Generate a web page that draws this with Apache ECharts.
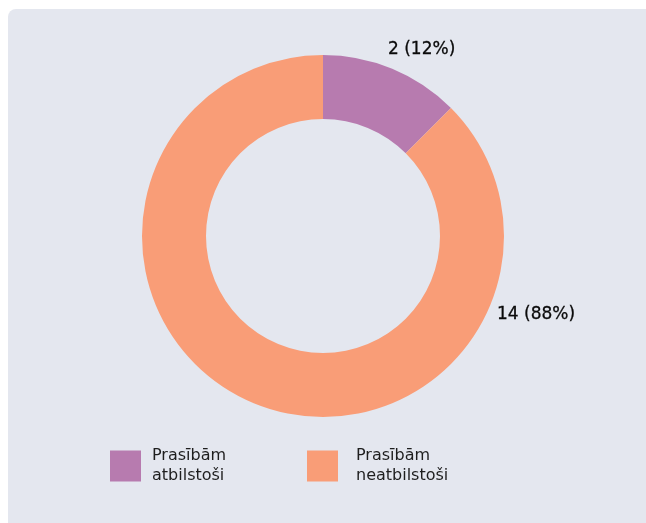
<!DOCTYPE html>
<html>
<head>
<meta charset="utf-8">
<script src="https://cdn.jsdelivr.net/npm/echarts@6/dist/echarts.min.js"></script>
<style>
html, body { margin: 0; padding: 0; background: #ffffff; }
#bg { position: absolute; left: 8px; top: 9px; width: 638px; height: 514px; background: #e4e7ef; border-radius: 8px 0 0 0; }
#chart { position: absolute; left: 0; top: 0; width: 646px; height: 523px; }
</style>
</head>
<body>
<div id="bg"></div>
<div id="chart"></div>
<script>
const categories = ['Prasībām atbilstoši', 'Prasībām neatbilstoši'];
const values = [2, 14];
const percentLabels = ['12%', '88%'];
const colors = ['#b77baf', '#f99d77'];

const labelSpots = [
  { x: 388, y: 50 },
  { x: 497, y: 315 }
];

const chart = echarts.init(document.getElementById('chart'), null, { renderer: 'canvas' });

const legendBase = {
  orient: 'horizontal',
  top: 446,
  padding: 0,
  itemWidth: 31,
  itemHeight: 31,
  icon: 'rect',
  selectedMode: false,
  formatter: function (name) { return name.replace(' ', '\n'); },
};

chart.setOption({
  animation: false,
  legend: [
    Object.assign({}, legendBase, {
      left: 110,
      data: [categories[0]],
      textStyle: { fontFamily: 'DejaVu Sans', fontSize: 16, lineHeight: 20, color: '#1e1e1e', padding: [0, 0, 0, 6] }
    }),
    Object.assign({}, legendBase, {
      left: 307,
      data: [categories[1]],
      textStyle: { fontFamily: 'DejaVu Sans', fontSize: 16, lineHeight: 20, color: '#1e1e1e', padding: [0, 0, 0, 13] }
    })
  ],
  series: [{
    type: 'pie',
    center: [323, 236],
    radius: [117, 181],
    startAngle: 90,
    clockwise: true,
    silent: true,
    data: categories.map(function (c, i) {
      return { name: c, value: values[i], itemStyle: { color: colors[i] } };
    }),
    label: {
      show: true,
      position: 'outside',
      fontFamily: 'DejaVu Sans',
      fontSize: 17,
      color: '#0a0a0a',
      textBorderColor: '#0a0a0a',
      textBorderWidth: 0.3,
      formatter: function (p) { return values[p.dataIndex] + ' (' + percentLabels[p.dataIndex] + ')'; }
    },
    labelLine: { show: false },
    labelLayout: function (params) {
      const s = labelSpots[params.dataIndex];
      return { x: s.x, y: s.y, align: 'left', verticalAlign: 'middle' };
    },
    emphasis: { disabled: true }
  }]
});
</script>
</body>
</html>
